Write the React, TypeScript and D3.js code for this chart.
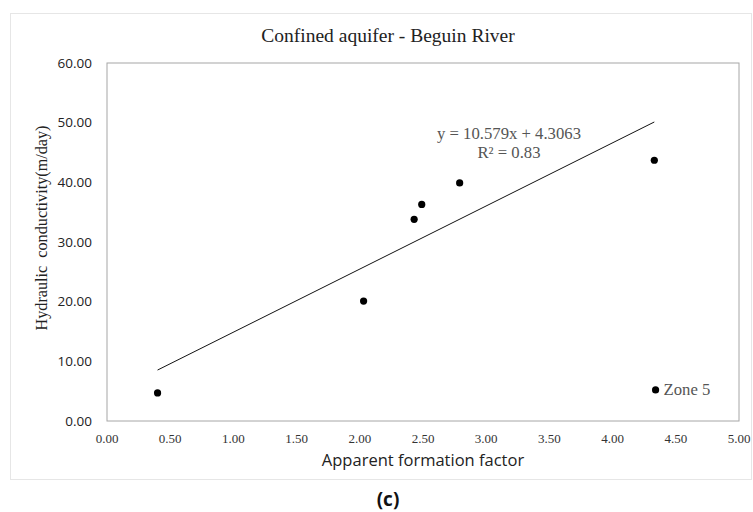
import React from "react";
import * as d3 from "d3";

// Apparent formation factor vs hydraulic conductivity (m/day)
const formationFactor = [0.4, 2.03, 2.43, 2.49, 2.79, 4.33];
const conductivity = [4.7, 20.1, 33.8, 36.3, 39.9, 43.7];
const zone5 = { x: 4.34, y: 5.2, label: "Zone 5" };
const trend = { slope: 10.579, intercept: 4.3063, r2: "0.83" };
const xTicks = [0, 0.5, 1, 1.5, 2, 2.5, 3, 3.5, 4, 4.5, 5];
const yTicks = [0, 10, 20, 30, 40, 50, 60];

const W = 753;
const H = 512;
const plot = { left: 107, top: 63, right: 739, bottom: 421 };
const serif = "'Liberation Serif', 'Times New Roman', serif";
const sans = "'Open Sans', 'Noto Sans', sans-serif";

export default function App() {
  const x = d3.scaleLinear().domain([0, 5]).range([plot.left, plot.right]);
  const y = d3.scaleLinear().domain([0, 60]).range([plot.bottom, plot.top]);

  const xMin = d3.min(formationFactor)!;
  const xMax = d3.max(formationFactor)!;
  const line = d3
    .line<number>()
    .x(d => x(d))
    .y(d => y(trend.slope * d + trend.intercept));

  return (
    <svg
      width={W}
      height={H}
      style={{ position: "absolute", left: 0, top: 0, background: "#fff" }}
    >
      <rect x={10.5} y={13.5} width={741} height={466} fill="#fff" stroke="#e6e6e6" />
      <text x={388} y={42} textAnchor="middle" fontFamily={serif} fontSize={19.5} fill="#222">
        Confined aquifer - Beguin River
      </text>

      <rect
        x={plot.left}
        y={plot.top}
        width={plot.right - plot.left}
        height={plot.bottom - plot.top}
        fill="none"
        stroke="#a6a6a6"
      />

      {yTicks.map(t => (
        <text
          key={t}
          x={92}
          y={y(t)}
          dy="0.35em"
          textAnchor="end"
          fontFamily={sans}
          fontSize={13.5}
          fill="#222"
        >
          {t.toFixed(2)}
        </text>
      ))}
      {xTicks.map(t => (
        <text
          key={t}
          x={x(t)}
          y={443}
          textAnchor="middle"
          fontFamily={serif}
          fontSize={13}
          fill="#333"
        >
          {t.toFixed(2)}
        </text>
      ))}

      <text
        transform={`translate(47,228) rotate(-90)`}
        textAnchor="middle"
        fontFamily={serif}
        fontSize={16.2}
        fill="#222"
        style={{ whiteSpace: "pre" }}
      >
        {"Hydraulic  conductivity(m/day)"}
      </text>
      <text x={423} y={466} textAnchor="middle" fontFamily={sans} fontSize={16.5} fill="#222">
        Apparent formation factor
      </text>

      <path d={line([xMin, xMax]) ?? ""} fill="none" stroke="#111" strokeWidth={1} />

      {formationFactor.map((fx, i) => (
        <circle key={i} cx={x(fx)} cy={y(conductivity[i])} r={3.6} fill="#000" />
      ))}
      <circle cx={x(zone5.x)} cy={y(zone5.y)} r={3.6} fill="#000" />
      <text x={x(zone5.x) + 8} y={y(zone5.y) + 5.5} fontFamily={serif} fontSize={16.7} fill="#555">
        {zone5.label}
      </text>

      <text x={509} y={139} textAnchor="middle" fontFamily={serif} fontSize={16.7} fill="#555">
        {`y = ${trend.slope}x + ${trend.intercept}`}
      </text>
      <text x={509} y={158} textAnchor="middle" fontFamily={serif} fontSize={16.7} fill="#555">
        {`R² = ${trend.r2}`}
      </text>

      <text x={388} y={506} textAnchor="middle" fontFamily={sans} fontSize={19} fontWeight="bold" fill="#111">
        (c)
      </text>
    </svg>
  );
}
